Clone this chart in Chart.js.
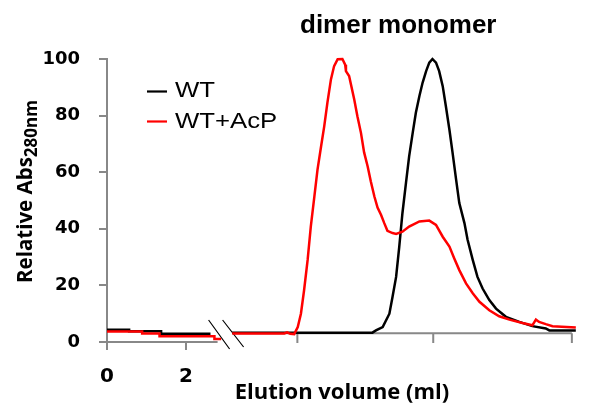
<!DOCTYPE html>
<html>
<head>
<meta charset="utf-8">
<script src="https://cdn.jsdelivr.net/npm/chart.js@4.4.1/dist/chart.umd.min.js"></script>
<style>
  html, body { margin: 0; padding: 0; background: #fff; }
</style>
</head>
<body>
<canvas id="grafico" width="613" height="408"></canvas>
<script>
// --- DADOS ---
// volume de eluição (ml) e absorbância relativa; null = quebra do eixo
const volumeWT = [0, 0.56, 0.56, 1.37, 1.37, 2.62, 2.9, 3.17, 6.39, 6.72, 6.81, 6.98,
  7.15, 7.23, 7.32, 7.40, 7.48, 7.57, 7.65, 7.74, 7.82, 7.91, 7.99,
  8.08, 8.16, 8.24, 8.33, 8.41, 8.50, 8.58, 8.67, 8.75, 8.84, 8.92,
  9.05, 9.13, 9.26, 9.38, 9.51, 9.68, 9.85, 10.10, 10.44, 10.77, 11.11, 11.20, 11.87];
const absWT = [4.3, 4.3, 3.8, 3.8, 2.9, 2.9, null, 3.3, 3.3, 3.3, 4.1, 5.3,
  10, 16, 23, 33.7, 45.5, 56.2, 65.6, 73.9, 81, 86.9, 91.6,
  95.7, 98.7, 100, 98.7, 95.7, 90.4, 83.3, 75, 66.8, 57.3, 49.1,
  42, 36.1, 29, 23, 18.9, 14.8, 11.8, 8.9, 7.1, 5.6, 4.8, 4.1, 4.1];

const volumeAcP = [0, 0.89, 0.89, 1.33, 1.33, 2.72, 2.72, 2.89, 2.95, 3.17, 4.49, 4.56, 4.64, 4.74,
  4.83, 4.91, 4.99, 5.08, 5.16, 5.25, 5.33, 5.42, 5.50, 5.58, 5.67, 5.75, 5.84, 5.96,
  6.03, 6.05, 6.13, 6.26, 6.34, 6.43, 6.51, 6.60, 6.68, 6.77, 6.85, 6.94, 7.02, 7.10,
  7.23, 7.32, 7.48, 7.65, 7.91, 8.16, 8.33, 8.50, 8.67, 8.79, 8.92,
  9.09, 9.26, 9.43, 9.68, 9.93, 10.19, 10.52, 10.77, 10.86, 10.94, 11.11, 11.28, 11.87];
const absAcP = [3.7, 3.7, 3.0, 3.0, 2.0, 2.0, 1.1, 1.1, null, 3.0, 3.0, 3.4, 2.9, 2.8,
  5.3, 10, 18.3, 29, 40.8, 51.4, 60.9, 69.1, 76.2, 84.5, 92.8, 97.5, 99.9, 100,
  98, 95.7, 94, 85.7, 79.8, 73.9, 67, 62, 56.7, 51.4, 47.5, 44.9, 42, 39.3,
  38.5, 38.2, 39, 40.8, 42.6, 42.9, 41.4, 37.2, 33.7, 29.6, 25.4,
  20.7, 17.2, 14.2, 11.2, 9.1, 7.9, 6.7, 5.9, 7.9, 7.1, 6.3, 5.6, 5.1];

const nomesSeries = ['WT', 'WT+AcP'];
const ticksRotulados = [0, 2];          // ticks com rótulo (parte esquerda)
const ticksDireita = [4.82, 8.26, 11.77]; // ticks sem rótulo (parte direita)
const quebraInicio = 2.8;
const quebraFim = 3.18;
const nivelEixoDireito = 3.1;

const corEixo = '#888888';

function juntar(xs, ys) {
  return xs.map((v, i) => ({ x: v, y: ys[i] }));
}

// desenha eixo quebrado, legenda, títulos
const decoracao = {
  id: 'decoracao',
  beforeDatasetsDraw(chart) {
    const ctx = chart.ctx;
    const x = chart.scales.x;
    const y = chart.scales.y;
    const y0 = y.getPixelForValue(0);
    const yDir = y.getPixelForValue(nivelEixoDireito);
    const pIni = x.getPixelForValue(quebraInicio);
    const pFim = x.getPixelForValue(quebraFim);

    ctx.save();
    ctx.strokeStyle = corEixo;
    ctx.lineWidth = 2;
    ctx.beginPath();
    ctx.moveTo(x.left, y0);
    ctx.lineTo(pIni, y0);
    ticksRotulados.forEach(v => {
      const px = x.getPixelForValue(v);
      ctx.moveTo(px, y0);
      ctx.lineTo(px, y0 + 8);
    });
    ctx.moveTo(pFim, yDir);
    ctx.lineTo(x.getPixelForValue(ticksDireita[ticksDireita.length - 1]), yDir);
    ticksDireita.forEach(v => {
      const px = x.getPixelForValue(v);
      ctx.moveTo(px, yDir);
      ctx.lineTo(px, y0 + 1);
    });
    ctx.stroke();

    // marcas da quebra
    ctx.strokeStyle = '#000';
    ctx.lineWidth = 1.2;
    ctx.beginPath();
    ctx.moveTo(pIni - 9, y0 - 22);
    ctx.lineTo(pIni + 12, y0 + 7);
    ctx.moveTo(pFim - 10, y0 - 22);
    ctx.lineTo(pFim + 11, y0 + 5);
    ctx.stroke();
    ctx.restore();
  },
  afterDraw(chart) {
    const ctx = chart.ctx;
    ctx.save();
    ctx.fillStyle = '#000';

    // título
    ctx.font = 'bold 26px "Liberation Sans"';
    ctx.textAlign = 'left';
    ctx.textBaseline = 'alphabetic';
    ctx.fillText('dimer monomer', 300, 33);

    // legenda
    const linhasY = [91.5, 121.5];
    const baseY = [96.5, 128];
    chart.data.datasets.forEach((ds, i) => {
      ctx.strokeStyle = ds.borderColor;
      ctx.lineWidth = 2.2;
      ctx.beginPath();
      ctx.moveTo(147, linhasY[i]);
      ctx.lineTo(167, linhasY[i]);
      ctx.stroke();
      ctx.save();
      ctx.translate(175, baseY[i]);
      ctx.scale(1.17, 1);
      ctx.font = '22px "Liberation Sans"';
      ctx.fillStyle = '#000';
      ctx.fillText(ds.label, 0, 0);
      ctx.restore();
    });

    // título do eixo y com subscrito
    ctx.translate(32, 283);
    ctx.rotate(-Math.PI / 2);
    ctx.font = 'bold 20.5px "Open Sans"';
    ctx.fillText('Relative Abs', 0, 0);
    const w = ctx.measureText('Relative Abs').width;
    ctx.font = 'bold 17px "Open Sans"';
    ctx.fillText('280nm', w, 5);
    ctx.restore();
  }
};

const ctx = document.getElementById('grafico').getContext('2d');
const grafico = new Chart(ctx, {
  type: 'line',
  data: {
    datasets: [{
      label: nomesSeries[0],
      data: juntar(volumeWT, absWT),
      borderColor: '#000000',
      borderWidth: 2.5,
      pointRadius: 0,
      spanGaps: false,
      clip: false,
      order: 2
    }, {
      label: nomesSeries[1],
      data: juntar(volumeAcP, absAcP),
      borderColor: '#ff0000',
      borderWidth: 2.5,
      pointRadius: 0,
      spanGaps: false,
      clip: false,
      order: 1
    }]
  },
  options: {
    responsive: false,
    animation: false,
    layout: { padding: { left: 0, right: 36, top: 59, bottom: 0 } },
    plugins: {
      legend: { display: false },
      tooltip: { enabled: false }
    },
    scales: {
      x: {
        type: 'linear',
        min: 0,
        max: 11.9,
        afterBuildTicks: s => { s.ticks = ticksRotulados.map(v => ({ value: v })); },
        ticks: {
          font: { family: 'DejaVu Sans', weight: 'bold', size: 20 },
          color: '#000',
          padding: 15,
          maxRotation: 0,
          autoSkip: false,
          callback: v => String(v)
        },
        grid: { display: false },
        border: { display: false },
        title: {
          display: true,
          text: 'Elution volume (ml)',
          font: { family: 'Open Sans', weight: 'bold', size: 22 },
          color: '#000',
          padding: { top: 0, bottom: 2 }
        },
        afterFit: s => { s.height = 66; }
      },
      y: {
        min: 0,
        max: 100,
        ticks: {
          stepSize: 20,
          font: { family: 'DejaVu Sans', weight: 'bold', size: 18 },
          color: '#000',
          padding: 19
        },
        grid: { drawOnChartArea: false, tickLength: 8, color: corEixo, lineWidth: 2 },
        border: { color: corEixo, width: 2 },
        afterFit: s => { s.width = 107; }
      }
    }
  },
  plugins: [decoracao]
});
</script>
</body>
</html>
